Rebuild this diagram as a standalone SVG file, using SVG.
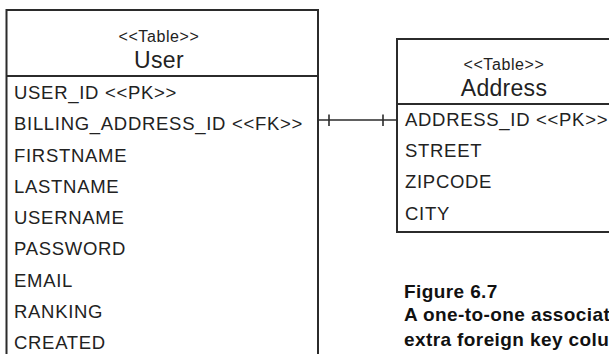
<svg xmlns="http://www.w3.org/2000/svg" width="609" height="354" viewBox="0 0 609 354">
<style>
.box{fill:#fff;stroke:#2b2b2b;stroke-width:2}
.div{stroke:#2b2b2b;stroke-width:2}
.st{font-family:"Liberation Sans",Arial,sans-serif;font-size:16px;letter-spacing:0.6px;fill:#222;text-anchor:middle}
.nm{font-family:"Liberation Sans",Arial,sans-serif;font-size:23px;letter-spacing:0.3px;fill:#222;text-anchor:middle}
.col{font-family:"Liberation Sans",Arial,sans-serif;font-size:18.5px;letter-spacing:0.7px;fill:#222}
.cap{font-family:"Liberation Sans",Arial,sans-serif;font-size:19px;font-weight:bold;letter-spacing:0.4px;fill:#111}
.con{stroke:#2b2b2b;stroke-width:1.6;fill:none}
</style>
<rect width="609" height="354" fill="#fff"/>
<g id="user">
<rect class="box" x="6.5" y="10" width="311.5" height="360"/>
<line class="div" x1="6.5" y1="76" x2="318" y2="76"/>
<text class="st" x="159" y="42">&lt;&lt;Table&gt;&gt;</text>
<text class="nm" x="159" y="68">User</text>
<text class="col" x="14" y="99">USER_ID &lt;&lt;PK&gt;&gt;</text>
<text class="col" x="14" y="130.25">BILLING_ADDRESS_ID &lt;&lt;FK&gt;&gt;</text>
<text class="col" x="14" y="161.5">FIRSTNAME</text>
<text class="col" x="14" y="192.75">LASTNAME</text>
<text class="col" x="14" y="224">USERNAME</text>
<text class="col" x="14" y="255.25">PASSWORD</text>
<text class="col" x="14" y="286.5">EMAIL</text>
<text class="col" x="14" y="317.75">RANKING</text>
<text class="col" x="14" y="349">CREATED</text>
</g>
<g id="address">
<rect class="box" x="397" y="39" width="216" height="193"/>
<line class="div" x1="397" y1="104" x2="613" y2="104"/>
<text class="st" x="504" y="70">&lt;&lt;Table&gt;&gt;</text>
<text class="nm" x="504" y="96">Address</text>
<text class="col" x="405" y="126">ADDRESS_ID &lt;&lt;PK&gt;&gt;</text>
<text class="col" x="405" y="157">STREET</text>
<text class="col" x="405" y="188">ZIPCODE</text>
<text class="col" x="405" y="220">CITY</text>
</g>
<g id="connectors">
<line class="con" x1="318" y1="120" x2="397" y2="120"/>
<line class="con" x1="329" y1="114.5" x2="329" y2="126"/>
<line class="con" x1="383" y1="114.5" x2="383" y2="126"/>
</g>
<g id="caption">
<text class="cap" x="404" y="298">Figure 6.7</text>
<text class="cap" x="404" y="321">A one-to-one associat</text>
<text class="cap" x="404" y="346">extra foreign key colu</text>
</g>
</svg>
